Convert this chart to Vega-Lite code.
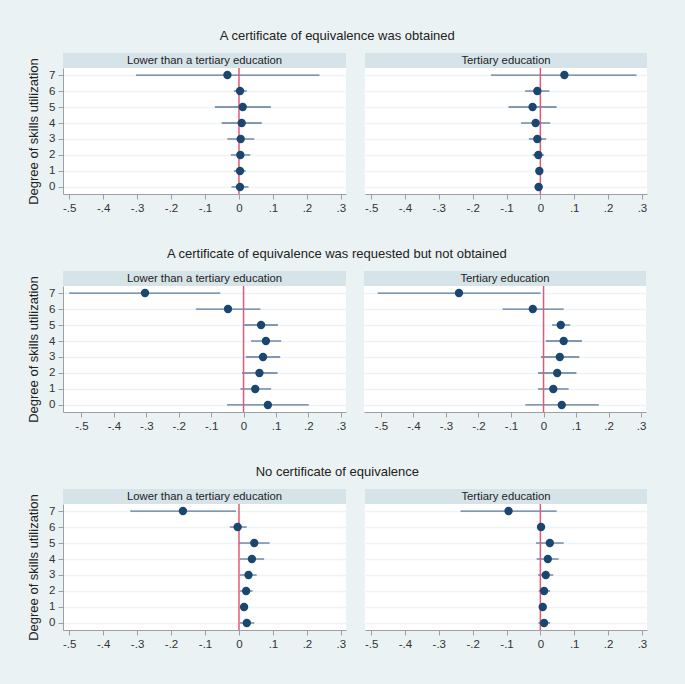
{
  "$schema": "https://vega.github.io/schema/vega-lite/v6.json",
  "background": "#EAF2F3",
  "padding": {"left": 27, "top": 30, "right": 39, "bottom": 36},
  "config": {
    "font": "Liberation Sans",
    "view": {"stroke": null},
    "axis": {"labelFont": "Liberation Sans", "labelFontSize": 11.5, "labelColor": "#333333", "labelOverlap": false, "domainColor": "#9aa0a6", "tickColor": "#9aa0a6", "gridColor": "#EEF3F5", "gridWidth": 1.5, "titleFont": "Liberation Sans", "titleFontWeight": "normal", "titleFontSize": 13, "titleColor": "#222222"},
    "axisX": {"grid": false, "tickSize": 5, "labelPadding": 3, "labelFlush": false},
    "axisY": {"grid": true, "tickSize": 5, "labelPadding": 3},
    "title": {"font": "Liberation Sans", "fontSize": 13, "fontWeight": "normal", "color": "#222222", "offset": 10, "anchor": "middle"}
  },
  "datasets": {
    "r1L": [
      {"k": 7, "b": -0.034, "lo": -0.303, "hi": 0.237},
      {"k": 6, "b": 0.003, "lo": -0.015, "hi": 0.023},
      {"k": 5, "b": 0.011, "lo": -0.071, "hi": 0.094},
      {"k": 4, "b": 0.008, "lo": -0.051, "hi": 0.067},
      {"k": 3, "b": 0.005, "lo": -0.034, "hi": 0.045},
      {"k": 2, "b": 0.004, "lo": -0.024, "hi": 0.033},
      {"k": 1, "b": 0.003, "lo": -0.015, "hi": 0.020},
      {"k": 0, "b": 0.003, "lo": -0.022, "hi": 0.028}
    ],
    "r1R": [
      {"k": 7, "b": 0.071, "lo": -0.146, "hi": 0.284},
      {"k": 6, "b": -0.009, "lo": -0.045, "hi": 0.027},
      {"k": 5, "b": -0.023, "lo": -0.094, "hi": 0.048},
      {"k": 4, "b": -0.014, "lo": -0.057, "hi": 0.029},
      {"k": 3, "b": -0.009, "lo": -0.034, "hi": 0.017},
      {"k": 2, "b": -0.006, "lo": -0.023, "hi": 0.011},
      {"k": 1, "b": -0.003, "lo": -0.013, "hi": 0.007},
      {"k": 0, "b": -0.005, "lo": -0.017, "hi": 0.007}
    ],
    "r2L": [
      {"k": 7, "b": -0.304, "lo": -0.538, "hi": -0.072},
      {"k": 6, "b": -0.048, "lo": -0.147, "hi": 0.052},
      {"k": 5, "b": 0.054, "lo": 0.002, "hi": 0.106},
      {"k": 4, "b": 0.069, "lo": 0.023, "hi": 0.116},
      {"k": 3, "b": 0.060, "lo": 0.007, "hi": 0.113},
      {"k": 2, "b": 0.049, "lo": -0.005, "hi": 0.105},
      {"k": 1, "b": 0.036, "lo": -0.010, "hi": 0.085},
      {"k": 0, "b": 0.075, "lo": -0.051, "hi": 0.201}
    ],
    "r2R": [
      {"k": 7, "b": -0.260, "lo": -0.510, "hi": -0.009},
      {"k": 6, "b": -0.033, "lo": -0.126, "hi": 0.062},
      {"k": 5, "b": 0.053, "lo": 0.026, "hi": 0.082},
      {"k": 4, "b": 0.062, "lo": 0.007, "hi": 0.118},
      {"k": 3, "b": 0.050, "lo": -0.008, "hi": 0.110},
      {"k": 2, "b": 0.042, "lo": -0.017, "hi": 0.101},
      {"k": 1, "b": 0.030, "lo": -0.017, "hi": 0.077},
      {"k": 0, "b": 0.056, "lo": -0.056, "hi": 0.170}
    ],
    "r3L": [
      {"k": 7, "b": -0.165, "lo": -0.320, "hi": -0.009},
      {"k": 6, "b": -0.004, "lo": -0.027, "hi": 0.023},
      {"k": 5, "b": 0.045, "lo": 0.000, "hi": 0.090},
      {"k": 4, "b": 0.038, "lo": 0.003, "hi": 0.074},
      {"k": 3, "b": 0.028, "lo": 0.003, "hi": 0.052},
      {"k": 2, "b": 0.021, "lo": 0.003, "hi": 0.040},
      {"k": 1, "b": 0.015, "lo": 0.005, "hi": 0.025},
      {"k": 0, "b": 0.023, "lo": 0.003, "hi": 0.045}
    ],
    "r3R": [
      {"k": 7, "b": -0.094, "lo": -0.236, "hi": 0.048},
      {"k": 6, "b": 0.002, "lo": -0.005, "hi": 0.009},
      {"k": 5, "b": 0.028, "lo": -0.013, "hi": 0.069},
      {"k": 4, "b": 0.022, "lo": -0.011, "hi": 0.054},
      {"k": 3, "b": 0.016, "lo": -0.007, "hi": 0.038},
      {"k": 2, "b": 0.011, "lo": -0.005, "hi": 0.029},
      {"k": 1, "b": 0.007, "lo": -0.003, "hi": 0.017},
      {"k": 0, "b": 0.011, "lo": -0.006, "hi": 0.029}
    ]
  },
  "spacing": 34,
  "vconcat": [
    {
      "title": {"text": "A certificate of equivalence was obtained"},
      "spacing": 18,
      "hconcat": [
        {"spacing": 0, "bounds": "flush", "vconcat": [
          {"width": 283, "height": 15, "view": {"fill": "#D6E3E9", "stroke": null}, "data": {"values": [{"t": "Lower than a tertiary education"}]}, "mark": {"type": "text", "fontSize": 11.3, "color": "#222222", "font": "Liberation Sans"}, "encoding": {"text": {"field": "t"}}},
          {"width": 283, "height": 126, "view": {"fill": "white", "stroke": null}, "data": {"name": "r1L"},
           "encoding": {"y": {"field": "k", "type": "quantitative", "scale": {"domain": [-0.44, 7.44], "nice": false, "zero": false}, "axis": {"values": [0,1,2,3,4,5,6,7], "tickCount": 10, "title": "Degree of skills utilization", "titlePadding": 8}}},
           "layer": [
             {"mark": {"type": "rule", "color": "#5d7996", "strokeWidth": 1.3}, "encoding": {"x": {"field": "lo", "type": "quantitative", "scale": {"domain": [-0.518, 0.315], "nice": false, "zero": false}, "axis": {"values": [-0.5,-0.4,-0.3,-0.2,-0.1,0,0.1,0.2,0.3], "tickCount": 12, "title": null, "labelExpr": "datum.value == 0 ? '0' : replace(replace(format(datum.value, '.1f'), '0.', '.'), '\u2212', '-')"}}, "x2": {"field": "hi"}}},
             {"data": {"values": [{}]}, "mark": {"type": "rule", "color": "#e05a78", "strokeWidth": 1.5}, "encoding": {"x": {"datum": 0, "type": "quantitative"}, "y": null}},
             {"mark": {"type": "point", "filled": true, "size": 70, "color": "#1a476f", "opacity": 1}, "encoding": {"x": {"field": "b", "type": "quantitative"}}}
           ]}
        ]},
        {"spacing": 0, "bounds": "flush", "vconcat": [
          {"width": 282, "height": 15, "view": {"fill": "#D6E3E9", "stroke": null}, "data": {"values": [{"t": "Tertiary education"}]}, "mark": {"type": "text", "fontSize": 11.3, "color": "#222222", "font": "Liberation Sans"}, "encoding": {"text": {"field": "t"}}},
          {"width": 282, "height": 126, "view": {"fill": "white", "stroke": null}, "data": {"name": "r1R"},
           "encoding": {"y": {"field": "k", "type": "quantitative", "scale": {"domain": [-0.44, 7.44], "nice": false, "zero": false}, "axis": {"values": [0,1,2,3,4,5,6,7], "tickCount": 10, "title": null, "labels": false, "ticks": false, "domain": false}}},
           "layer": [
             {"mark": {"type": "rule", "color": "#5d7996", "strokeWidth": 1.3}, "encoding": {"x": {"field": "lo", "type": "quantitative", "scale": {"domain": [-0.518, 0.315], "nice": false, "zero": false}, "axis": {"values": [-0.5,-0.4,-0.3,-0.2,-0.1,0,0.1,0.2,0.3], "tickCount": 12, "title": null, "labelExpr": "datum.value == 0 ? '0' : replace(replace(format(datum.value, '.1f'), '0.', '.'), '\u2212', '-')"}}, "x2": {"field": "hi"}}},
             {"data": {"values": [{}]}, "mark": {"type": "rule", "color": "#e05a78", "strokeWidth": 1.5}, "encoding": {"x": {"datum": 0, "type": "quantitative"}, "y": null}},
             {"mark": {"type": "point", "filled": true, "size": 70, "color": "#1a476f", "opacity": 1}, "encoding": {"x": {"field": "b", "type": "quantitative"}}}
           ]}
        ]}
      ]
    },
    {
      "title": {"text": "A certificate of equivalence was requested but not obtained"},
      "spacing": 18,
      "hconcat": [
        {"spacing": 0, "bounds": "flush", "vconcat": [
          {"width": 283, "height": 15, "view": {"fill": "#D6E3E9", "stroke": null}, "data": {"values": [{"t": "Lower than a tertiary education"}]}, "mark": {"type": "text", "fontSize": 11.3, "color": "#222222", "font": "Liberation Sans"}, "encoding": {"text": {"field": "t"}}},
          {"width": 283, "height": 126, "view": {"fill": "white", "stroke": null}, "data": {"name": "r2L"},
           "encoding": {"y": {"field": "k", "type": "quantitative", "scale": {"domain": [-0.44, 7.44], "nice": false, "zero": false}, "axis": {"values": [0,1,2,3,4,5,6,7], "tickCount": 10, "title": "Degree of skills utilization", "titlePadding": 8}}},
           "layer": [
             {"mark": {"type": "rule", "color": "#5d7996", "strokeWidth": 1.3}, "encoding": {"x": {"field": "lo", "type": "quantitative", "scale": {"domain": [-0.557, 0.316], "nice": false, "zero": false}, "axis": {"values": [-0.5,-0.4,-0.3,-0.2,-0.1,0,0.1,0.2,0.3], "tickCount": 12, "title": null, "labelExpr": "datum.value == 0 ? '0' : replace(replace(format(datum.value, '.1f'), '0.', '.'), '\u2212', '-')"}}, "x2": {"field": "hi"}}},
             {"data": {"values": [{}]}, "mark": {"type": "rule", "color": "#e05a78", "strokeWidth": 1.5}, "encoding": {"x": {"datum": 0, "type": "quantitative"}, "y": null}},
             {"mark": {"type": "point", "filled": true, "size": 70, "color": "#1a476f", "opacity": 1}, "encoding": {"x": {"field": "b", "type": "quantitative"}}}
           ]}
        ]},
        {"spacing": 0, "bounds": "flush", "vconcat": [
          {"width": 282, "height": 15, "view": {"fill": "#D6E3E9", "stroke": null}, "data": {"values": [{"t": "Tertiary education"}]}, "mark": {"type": "text", "fontSize": 11.3, "color": "#222222", "font": "Liberation Sans"}, "encoding": {"text": {"field": "t"}}},
          {"width": 282, "height": 126, "view": {"fill": "white", "stroke": null}, "data": {"name": "r2R"},
           "encoding": {"y": {"field": "k", "type": "quantitative", "scale": {"domain": [-0.44, 7.44], "nice": false, "zero": false}, "axis": {"values": [0,1,2,3,4,5,6,7], "tickCount": 10, "title": null, "labels": false, "ticks": false, "domain": false}}},
           "layer": [
             {"mark": {"type": "rule", "color": "#5d7996", "strokeWidth": 1.3}, "encoding": {"x": {"field": "lo", "type": "quantitative", "scale": {"domain": [-0.552, 0.315], "nice": false, "zero": false}, "axis": {"values": [-0.5,-0.4,-0.3,-0.2,-0.1,0,0.1,0.2,0.3], "tickCount": 12, "title": null, "labelExpr": "datum.value == 0 ? '0' : replace(replace(format(datum.value, '.1f'), '0.', '.'), '\u2212', '-')"}}, "x2": {"field": "hi"}}},
             {"data": {"values": [{}]}, "mark": {"type": "rule", "color": "#e05a78", "strokeWidth": 1.5}, "encoding": {"x": {"datum": 0, "type": "quantitative"}, "y": null}},
             {"mark": {"type": "point", "filled": true, "size": 70, "color": "#1a476f", "opacity": 1}, "encoding": {"x": {"field": "b", "type": "quantitative"}}}
           ]}
        ]}
      ]
    },
    {
      "title": {"text": "No certificate of equivalence"},
      "spacing": 18,
      "hconcat": [
        {"spacing": 0, "bounds": "flush", "vconcat": [
          {"width": 283, "height": 15, "view": {"fill": "#D6E3E9", "stroke": null}, "data": {"values": [{"t": "Lower than a tertiary education"}]}, "mark": {"type": "text", "fontSize": 11.3, "color": "#222222", "font": "Liberation Sans"}, "encoding": {"text": {"field": "t"}}},
          {"width": 283, "height": 126, "view": {"fill": "white", "stroke": null}, "data": {"name": "r3L"},
           "encoding": {"y": {"field": "k", "type": "quantitative", "scale": {"domain": [-0.44, 7.44], "nice": false, "zero": false}, "axis": {"values": [0,1,2,3,4,5,6,7], "tickCount": 10, "title": "Degree of skills utilization", "titlePadding": 8}}},
           "layer": [
             {"mark": {"type": "rule", "color": "#5d7996", "strokeWidth": 1.3}, "encoding": {"x": {"field": "lo", "type": "quantitative", "scale": {"domain": [-0.518, 0.315], "nice": false, "zero": false}, "axis": {"values": [-0.5,-0.4,-0.3,-0.2,-0.1,0,0.1,0.2,0.3], "tickCount": 12, "title": null, "labelExpr": "datum.value == 0 ? '0' : replace(replace(format(datum.value, '.1f'), '0.', '.'), '\u2212', '-')"}}, "x2": {"field": "hi"}}},
             {"data": {"values": [{}]}, "mark": {"type": "rule", "color": "#e05a78", "strokeWidth": 1.5}, "encoding": {"x": {"datum": 0, "type": "quantitative"}, "y": null}},
             {"mark": {"type": "point", "filled": true, "size": 70, "color": "#1a476f", "opacity": 1}, "encoding": {"x": {"field": "b", "type": "quantitative"}}}
           ]}
        ]},
        {"spacing": 0, "bounds": "flush", "vconcat": [
          {"width": 282, "height": 15, "view": {"fill": "#D6E3E9", "stroke": null}, "data": {"values": [{"t": "Tertiary education"}]}, "mark": {"type": "text", "fontSize": 11.3, "color": "#222222", "font": "Liberation Sans"}, "encoding": {"text": {"field": "t"}}},
          {"width": 282, "height": 126, "view": {"fill": "white", "stroke": null}, "data": {"name": "r3R"},
           "encoding": {"y": {"field": "k", "type": "quantitative", "scale": {"domain": [-0.44, 7.44], "nice": false, "zero": false}, "axis": {"values": [0,1,2,3,4,5,6,7], "tickCount": 10, "title": null, "labels": false, "ticks": false, "domain": false}}},
           "layer": [
             {"mark": {"type": "rule", "color": "#5d7996", "strokeWidth": 1.3}, "encoding": {"x": {"field": "lo", "type": "quantitative", "scale": {"domain": [-0.518, 0.315], "nice": false, "zero": false}, "axis": {"values": [-0.5,-0.4,-0.3,-0.2,-0.1,0,0.1,0.2,0.3], "tickCount": 12, "title": null, "labelExpr": "datum.value == 0 ? '0' : replace(replace(format(datum.value, '.1f'), '0.', '.'), '\u2212', '-')"}}, "x2": {"field": "hi"}}},
             {"data": {"values": [{}]}, "mark": {"type": "rule", "color": "#e05a78", "strokeWidth": 1.5}, "encoding": {"x": {"datum": 0, "type": "quantitative"}, "y": null}},
             {"mark": {"type": "point", "filled": true, "size": 70, "color": "#1a476f", "opacity": 1}, "encoding": {"x": {"field": "b", "type": "quantitative"}}}
           ]}
        ]}
      ]
    }
  ]
}
